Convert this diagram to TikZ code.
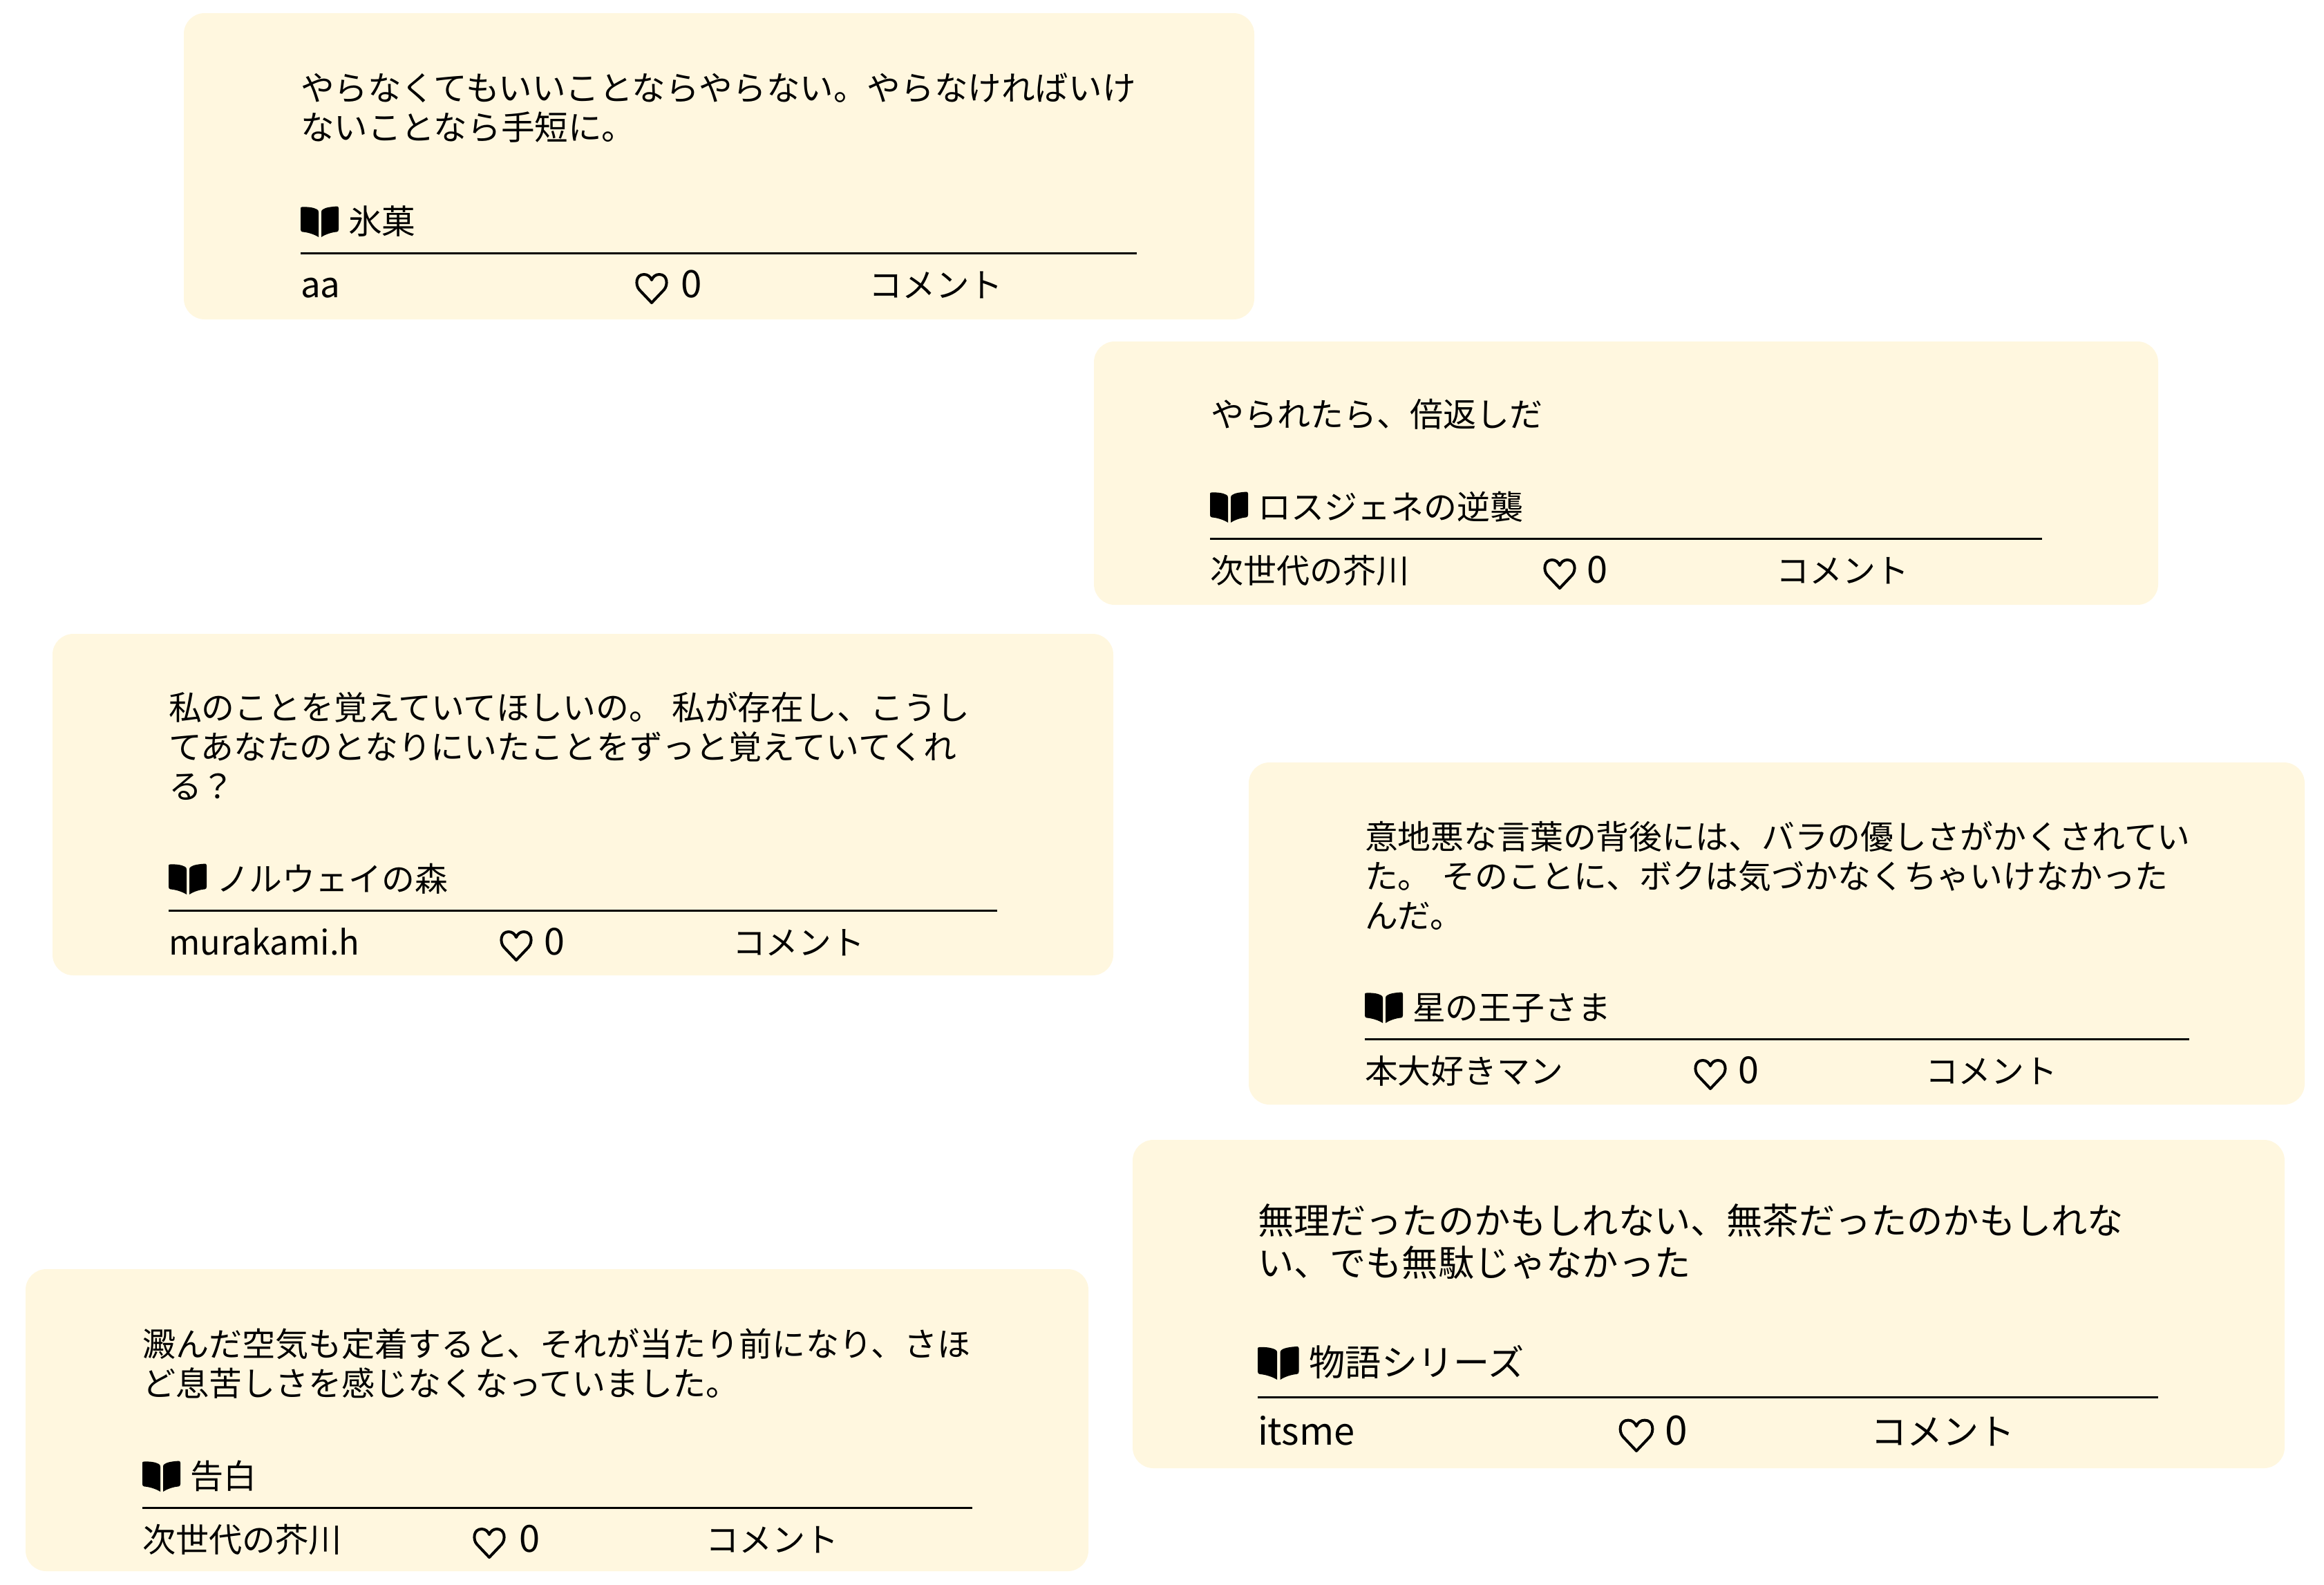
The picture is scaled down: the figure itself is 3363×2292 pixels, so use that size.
\documentclass[tikz,border=0pt]{standalone}
\usepackage{fontspec}
\setmainfont{Noto Sans CJK JP}
\definecolor{cardfill}{HTML}{FFF7DF}
\newcommand{\qsize}{48}
\newcommand{\qscale}{1}
\newcommand{\latn}[2][1.05]{{\fontsize{\fpeval{\qsize*#1}}{\qsize}\selectfont #2}}
\newcommand{\zerofig}{{\fontsize{\fpeval{\qsize*1.125}}{\qsize}\selectfont 0}}
\tikzset{
  cardbox/.style={fill=cardfill,draw=none,rounded corners=30pt,anchor=north west,inner sep=0pt,outer sep=0pt},
  qtext/.style={anchor=base west,inner sep=0pt,outer sep=0pt,text=black,font=\fontsize{\qsize}{\qsize}\selectfont},
  footrule/.style={line width=3pt,black},
  heartline/.style={line width=4pt,black,line join=round},
}
\newcommand{\cardbg}[5]{\node[cardbox,minimum width=#4pt-#2pt,minimum height=#5pt-#3pt] (#1) at (#2,#3) {};}
\newcommand{\qline}[4]{\node[qtext] (#1) at (#2,#3) {#4};}
% id, x, right x, rule y, heart x, zero x, comment x, title, user
\newcommand{\cardfoot}[9]{%
  \coordinate (#1rl) at (#2,#4);
  \coordinate (#1rr) at (#3,#4);
  \draw[footrule] (#1rl) -- (#1rr);
  \begin{scope}[shift={(#2,#4-69*\qscale)},scale=\qscale]
    \fill (0,4) .. controls (0,3) and (1,2.5) .. (2,2.5) .. controls (10,2) and (19,3) .. (24,6) .. controls (25.5,7) and (26,8) .. (26,10) -- (26,46) .. controls (20,42) and (10,39) .. (3,38.5) .. controls (1,38.5) and (0,37) .. (0,35) -- cycle;
    \fill (55,4) .. controls (55,3) and (54,1.5) .. (53,1.5) .. controls (45,2) and (36,3) .. (32,6) .. controls (30.5,7) and (30,8) .. (30,10) -- (30,46) .. controls (36,42) and (45,39) .. (52,38.5) .. controls (54,38.5) and (55,37) .. (55,35) -- cycle;
  \end{scope}
  \begin{scope}[shift={(#5,#4+29*\qscale)},scale=\qscale]
    \draw[heartline] (24,43) -- (6,24) .. controls (0,17) and (1,2) .. (13,2) .. controls (18,2) and (22,5) .. (24,10) .. controls (26,5) and (30,2) .. (35,2) .. controls (47,2) and (48,17) .. (42,24) -- cycle;
  \end{scope}
  \node[qtext] (#1title) at (#2+69*\qscale,#4-28*\qscale) {#8};
  \node[qtext] (#1user) at (#2,#4+64*\qscale) {#9};
  \node[qtext] (#1zero) at (#6,#4+64*\qscale) {\zerofig};
  \node[qtext] (#1cmt) at (#7,#4+64*\qscale) {コメント};
}
\begin{document}
\begin{tikzpicture}[x=1pt,y=-1pt]
\useasboundingbox (0,0) rectangle (3363,2292);
% card 1
\renewcommand{\qsize}{48.6}
\cardbg{a}{266}{19}{1815}{462}
\qline{aq1}{435}{145}{やらなくてもいいことならやらない。やらなければいけ}
\qline{aq2}{435}{202}{ないことなら手短に。}
\cardfoot{a}{435}{1645}{366}{919}{985}{1257}{氷菓}{\latn{aa}}
% card 2
\renewcommand{\qsize}{48}
\cardbg{b}{1583}{494}{3123}{875}
\qline{bq1}{1752}{617}{やられたら、倍返しだ}
\cardfoot{b}{1751}{2955}{779}{2233}{2296}{2570}{ロスジェネの逆襲}{次世代の芥川}
% card 3
\renewcommand{\qsize}{47.85}
\cardbg{c}{76}{917}{1611}{1411}
\qline{cq1}{244}{1041}{私のことを覚えていてほしいの。\hspace{0.3em}私が存在し、こうし}
\qline{cq2}{244}{1098}{てあなたのとなりにいたことをずっと覚えていてくれ}
\qline{cq3}{244}{1155}{る？}
\cardfoot{c}{244}{1443}{1317}{723}{787}{1060}{ノルウェイの森}{\latn[1.023]{murakami.h}}
% card 4
\cardbg{d}{1807}{1103}{3335}{1598}
\qline{dq1}{1975}{1228}{意地悪な言葉の背後には、バラの優しさがかくされてい}
\qline{dq2}{1975}{1285}{た。\hspace{0.33em}そのことに、ボクは気づかなくちゃいけなかった}
\qline{dq3}{1975}{1342}{んだ。}
\cardfoot{d}{1975}{3168}{1503}{2451}{2515}{2786}{星の王子さま}{本大好きマン}
% card 6
\renewcommand{\qsize}{48.1}
\cardbg{f}{37}{1836}{1575}{2273}
\qline{fq1}{206}{1962}{澱んだ空気も定着すると、それが当たり前になり、さほ}
\qline{fq2}{206}{2019}{ど息苦しさを感じなくなっていました。}
\cardfoot{f}{206}{1407}{2181}{684}{751}{1021}{告白}{次世代の芥川}
% card 5 (larger)
\renewcommand{\qsize}{52.2}
\renewcommand{\qscale}{1.083}
\cardbg{e}{1639}{1649}{3306}{2124}
\qline{eq1}{1820}{1785}{無理だったのかもしれない、無茶だったのかもしれな}
\qline{eq2}{1820}{1846}{い、でも無駄じゃなかった}
\cardfoot{e}{1820}{3123}{2021}{2342}{2409}{2707}{物語シリーズ}{\latn[1.04]{itsme}}
\end{tikzpicture}
\end{document}
